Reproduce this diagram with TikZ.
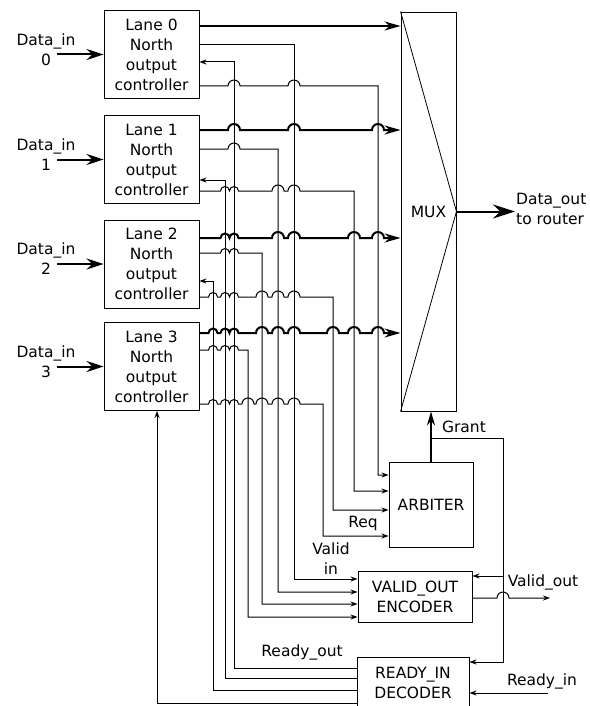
\documentclass[tikz,border=0pt]{standalone}
\usepackage{fontspec}
\setmainfont{DejaVu Sans}
\usetikzlibrary{arrows.meta}
\tikzset{
  every node/.style={font=\fontsize{15.5}{20}\selectfont},
  lanebox/.style={draw, line width=0.9pt, minimum width=95pt, minimum height=88pt, inner sep=0pt, align=center},
  blockbox/.style={draw, line width=0.9pt, inner sep=0pt, align=center},
  lbl/.style={inner sep=0pt, align=center},
  wire/.style={line width=1pt, -{Stealth[length=7pt,width=5pt]}},
  bus/.style={line width=2pt, -{Stealth[length=16pt,width=9pt]}},
}
% horizontal wire with hops: style, y, start node, hops (x/radius), rest of path
\newcommand\hopwire[5]{%
  \draw[#1] (#3 |- 0,#2) \foreach \hx/\hrad in {#4}{ -- (\hx-\hrad,#2) arc[start angle=180, end angle=0, radius=\hrad pt] } #5;}
\begin{document}
\begin{tikzpicture}[x=1pt, y=-1pt]
    \useasboundingbox (0,0) rectangle (589,706);
    % Lane controllers and their inputs
    \foreach \i/\y in {0/54.5, 1/159.5, 2/264, 3/366.5}{
        \node[lanebox] (lane\i) at (151.5,\y) {Lane \i\\North\\output\\controller};
        \node[lbl] (din\i) at (46,\y-5) {Data\_in\\\i};
        \coordinate (dinstart\i) at (57,\y);
        \draw[bus, -{Stealth[length=17pt,width=11pt]}] (dinstart\i) -- (lane\i.west);
    }

    % Multiplexer
    \node[blockbox, minimum width=55pt, minimum height=399pt] (mux) at (428.5,211.5) {MUX};
    \draw[line width=0.8pt] (mux.north west) -- (mux.east) -- (mux.south west);
    \coordinate (dout) at (515,211.5);
    \draw[bus, -{Stealth[length=22pt,width=14pt]}] (mux.east) -- (dout);
    \node[lbl, anchor=west, align=left] (doutlbl) at (516,209) {Data\_out\\to router};

    % Arbiter, encoder, decoder
    \node[blockbox, minimum width=84pt, minimum height=85pt] (arbiter) at (431,504.5) {ARBITER};
    \node[blockbox, minimum width=114pt, minimum height=51pt] (encoder) at (415,596.5) {VALID\_OUT\\ENCODER};
    \node[blockbox, minimum width=112pt, minimum height=51pt] (decoder) at (413,682.5) {READY\_IN\\DECODER};

    % Data buses
    \draw[bus] (lane0.east |- 0,26) -- (mux.west |- 0,26);
    \hopwire{bus}{130}{lane1.east}{234/6,294/6,378/6}{-- (mux.west |- 0,130)}
    \hopwire{bus}{238}{lane2.east}{225/4.5,234/4.5,278/6,294/6,354/6,378/6}{-- (mux.west |- 0,238)}
    \hopwire{bus}{333}{lane3.east}{213/4.5,225/4.5,234/4.5,262/6,278/6,294/6,333/6,354/6,378/6}{-- (mux.west |- 0,333)}

    % Valid lines to the encoder
    \draw[wire] (lane0.east |- 0,44.7) -| (294,579) -- (encoder.west |- 0,579);
    \hopwire{wire}{149}{lane1.east}{234/6}{-- (278,149) |- (encoder.west |- 0,592)}
    \hopwire{wire}{253}{lane2.east}{225/4.5,234/4.5}{-- (262,253) |- (encoder.west |- 0,604)}
    \hopwire{wire}{350}{lane3.east}{213/4.5,225/4.5,234/4.5}{-- (248,350) |- (encoder.west |- 0,617)}

    % Request lines to the arbiter
    \hopwire{wire}{86}{lane0.east}{234/6,294/6}{-- (378,86) |- (arbiter.west |- 0,475)}
    \hopwire{wire}{191}{lane1.east}{225/4.5,234/4.5,278/6,294/6}{-- (354,191) |- (arbiter.west |- 0,491)}
    \hopwire{wire}{297}{lane2.east}{213/4.5,225/4.5,234/4.5,262/6,278/6,294/6}{-- (333,297) |- (arbiter.west |- 0,510)}
    \hopwire{wire}{404}{lane3.east}{213/4.5,225/4.5,234/4.5,248/6,262/6,278/6,294/6}{-- (323,404) |- (arbiter.west |- 0,536)}

    % Ready lines from the decoder
    \draw[wire] (decoder.west |- 0,668) -| (234,62) -- (lane0.east |- 0,62);
    \draw[wire] (decoder.west |- 0,678) -| (225,180) -- (lane1.east |- 0,180);
    \draw[wire] (decoder.west |- 0,690) -| (213,281) -- (lane2.east |- 0,281);
    \draw[wire] (decoder.west |- 0,703) -| (lane3.south -| 157,0);

    % Grant
    \draw[bus, -{Stealth[length=14pt,width=8pt]}] (arbiter.north) -- (arbiter.north |- mux.south);
    \draw[wire] (arbiter.north |- 0,438) -| (503,662) -- (decoder.east |- 0,662);
    \draw[wire] (503,576) -- (encoder.east |- 0,576);

    % Outputs and inputs on the right
    \coordinate (vout) at (550,598);
    \coordinate (rin) at (548,693);
    \hopwire{wire}{598}{encoder.east}{503/6}{-- (vout)}
    \draw[wire] (rin) -- (decoder.east |- rin);

    % Labels
    \node[lbl] (grantlbl) at (464,427) {Grant};
    \node[lbl] (reqlbl) at (363,523) {Req};
    \node[lbl] (validinlbl) at (331,559) {Valid\\in};
    \node[lbl] (voutlbl) at (543,582) {Valid\_out};
    \node[lbl] (rinlbl) at (542,681) {Ready\_in};
    \node[lbl] (routlbl) at (302,652) {Ready\_out};
\end{tikzpicture}
\end{document}
